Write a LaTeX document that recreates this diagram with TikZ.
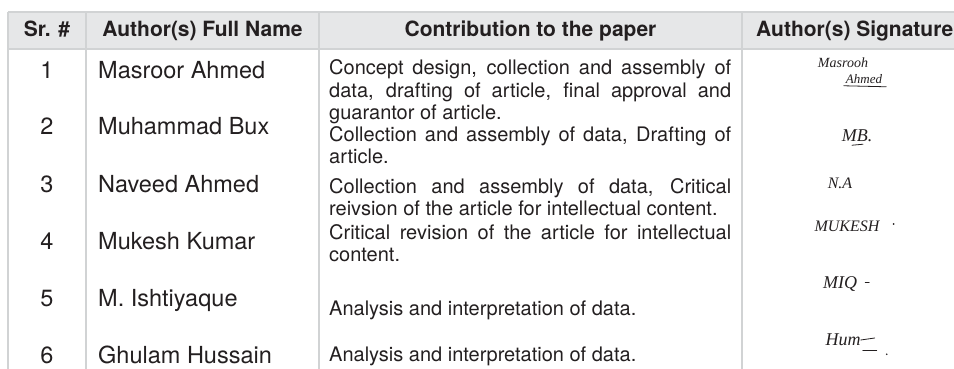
\documentclass[tikz,border=0pt]{standalone}
\usepackage{xcolor}
\usepackage{fontspec}
\setmainfont{TeX Gyre Heros}
\newfontfamily\sigfont{Liberation Serif}
\usetikzlibrary{positioning}
\definecolor{ink}{HTML}{231F20}
\definecolor{hdrgray}{HTML}{E6E7E8}
\definecolor{rulegray}{HTML}{D1D3D4}
\hyphenpenalty=10000
\exhyphenpenalty=10000

\begin{document}
\begin{tikzpicture}[
			x = 1pt, y = -1pt,
			every node/.style = {inner sep=0pt, text=ink},
			hdr/.style = {anchor=base, font=\fontsize{21}{24}\selectfont\bfseries},
			num/.style = {anchor=base, font=\fontsize{23.5}{28}\selectfont},
			auth/.style = {anchor=base west, font=\fontsize{23.5}{28}\selectfont},
			contrib/.style = {anchor=base west, text width=402pt, align=justify, font=\fontsize{20}{22.5}\selectfont},
			sig/.style = {font=\sigfont\itshape\fontsize{18}{16}\selectfont},
			sigstroke/.style = {draw=ink, line width=0.8pt, line cap=round},
			tabline/.style = {draw=rulegray, line width=1.5pt}
		]

		\useasboundingbox (0,0) rectangle (954,369);

		\fill[hdrgray] (8,12) rectangle (954,49);
		\draw[tabline] (8,12) -- (954,12);
		\draw[tabline] (8,49) -- (954,49);
		\foreach \x in {8,86,319,742}
			\draw[tabline] (\x,12) -- (\x,369);

		\node[hdr] (hsr) at (47,37) {Sr. \#};
		\node[hdr] (hname) at (202.5,37) {Author(s) Full Name};
		\node[hdr] (hcontrib) at (530.5,37) {Contribution to the paper};
		\node[hdr, anchor=base west] (hsig) at (756,37) {Author(s) Signature};

		\foreach \i/\nm in {1/Masroor Ahmed, 2/Muhammad Bux, 3/Naveed Ahmed, 4/Mukesh Kumar, 5/M. Ishtiyaque, 6/Ghulam Hussain}{
			\node[num] (num\i) at (47,{78+57*(\i-1)}) {\i};
			\node[auth] (auth\i) at (98,{78+57*(\i-1)}) {\nm};
		}

		\node[contrib] (con1) at (329,75) {Concept design, collection and assembly of\linebreak data, drafting of article, final approval and\linebreak guarantor of article.};
		\node[contrib] (con2) at (329,141) {Collection and assembly of data, Drafting of\linebreak article.};
		\node[contrib] (con3) at (329,193) {Collection and assembly of data, Critical\linebreak reivsion of the article for intellectual content.};
		\node[contrib] (con4) at (329,239) {Critical revision of the article for intellectual\linebreak content.};
		\node[contrib] (con5) at (329,315) {Analysis and interpretation of data.};
		\node[contrib] (con6) at (329,361) {Analysis and interpretation of data.};

		% signatures
		\node[sig, font=\sigfont\itshape\fontsize{14}{14}\selectfont] (sig1a) at (843,63) {Masrooh};
		\node[sig, font=\sigfont\itshape\fontsize{13}{13}\selectfont] (sig1b) at (864,79) {Ahmed};
		\draw[sigstroke] ([xshift=-2pt,yshift=-2pt]sig1b.south west) -- ([xshift=4pt,yshift=-3pt]sig1b.south east);
		\node[sig] (sig2) at (857,136) {MB.};
		\draw[sigstroke] ([xshift=-5pt,yshift=-3pt]sig2.south) -- ([xshift=6pt,yshift=-2pt]sig2.south);
		\node[sig, font=\sigfont\itshape\fontsize{16}{16}\selectfont] (sig3) at (840,183) {N.A};
		\node[sig, font=\sigfont\itshape\fontsize{16}{16}\selectfont] (sig4) at (847,226) {MUKESH};
		\fill[ink] ([xshift=14pt,yshift=2pt]sig4.east) circle (0.9pt);
		\node[sig] (sig5) at (840,284) {MIQ};
		\draw[sigstroke] ([xshift=8pt,yshift=2pt]sig5.east) -- ([xshift=12pt,yshift=2pt]sig5.east);
		\node[sig] (sig6) at (843,340) {Hum};
		\draw[sigstroke] (sig6.east) -- ([xshift=14pt,yshift=2pt]sig6.east);
		\draw[sigstroke] ([xshift=2pt,yshift=-4pt]sig6.south east) -- ([xshift=16pt,yshift=-4pt]sig6.south east);
		\fill[ink] ([xshift=26pt,yshift=-8pt]sig6.south east) circle (0.9pt);

\end{tikzpicture}
\end{document}
